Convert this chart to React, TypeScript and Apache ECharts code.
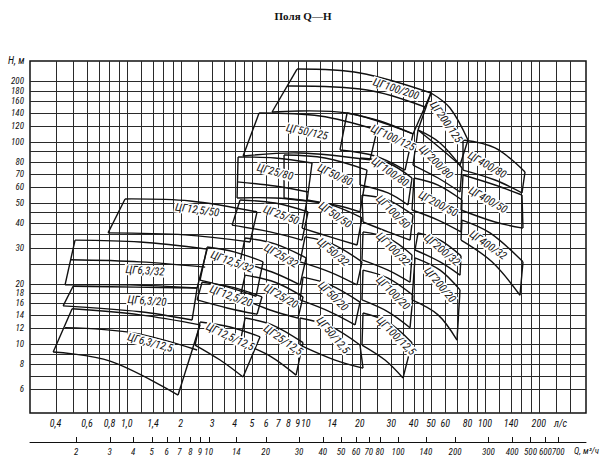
import React, { useEffect, useRef } from "react";
import * as echarts from "echarts";

// Axis ranges
const Q_MIN = 0.288; // l/s at left frame
const Q_MAX = 367; // l/s at right frame
const QH_MIN = 1.14; // m3/h at left end of the lower scale
const QH_MAX = 982; // m3/h at right end of the lower scale
const H_MIN = 4.58; // m at bottom frame
const H_MAX = 252; // m at top frame

// Grid lines
const qGridValues = [0.4, 0.5, 0.6, 0.7, 0.8, 0.9, 1, 1.2, 1.4, 1.6, 1.8, 2, 2.5, 3, 3.5, 4, 4.5, 5, 6, 7, 8, 9, 10, 12, 14, 16, 18, 20, 25, 30, 35, 40, 45, 50, 60, 70, 80, 90, 100, 120, 140, 160, 180, 200, 250, 300];
const hGridValues = [6, 7, 8, 9, 10, 12, 14, 16, 18, 20, 25, 30, 35, 40, 45, 50, 60, 70, 80, 90, 100, 120, 140, 160, 180, 200];

// Tick labels
const qTickValues = [0.4, 0.6, 0.8, 1, 1.4, 2, 3, 4, 5, 6, 7, 8, 9, 10, 14, 20, 30, 40, 50, 60, 80, 100, 140, 200];
const qTickLabels = ["0,4", "0,6", "0,8", "1,0", "1,4", "2", "3", "4", "5", "6", "7", "8", "9", "10", "14", "20", "30", "40", "50", "60", "80", "100", "140", "200"];
const hTickValues = [6, 8, 10, 12, 14, 16, 18, 20, 30, 40, 50, 60, 70, 80, 100, 120, 140, 160, 180, 200];
const qhTickValues = [2, 3, 4, 5, 6, 7, 8, 9, 10, 14, 20, 30, 40, 50, 60, 70, 80, 100, 140, 200, 300, 400, 500, 600, 700];

// Pump fields: [Q l/s, H m]
const fieldNames = [
  "ЦГ6,3/32", "ЦГ6,3/20", "ЦГ6,3/12,5",
  "ЦГ12,5/50", "ЦГ12,5/32", "ЦГ12,5/20", "ЦГ12,5/12,5",
  "ЦГ25/80", "ЦГ25/50", "ЦГ25/32", "ЦГ25/20", "ЦГ25/12,5",
  "ЦГ50/125", "ЦГ50/80", "ЦГ50/50", "ЦГ50/32", "ЦГ50/20", "ЦГ50/12,5",
  "ЦГ100/200", "ЦГ100/125", "ЦГ100/80", "ЦГ100/50", "ЦГ100/32", "ЦГ100/20", "ЦГ100/12,5",
  "ЦГ200/125", "ЦГ200/80", "ЦГ200/50", "ЦГ200/32", "ЦГ200/20",
  "ЦГ400/80", "ЦГ400/50", "ЦГ400/32",
];

const topCurves: number[][][] = [
  [[0.514, 32.8], [1.187, 32.1], [2.81, 29.6]],
  [[0.501, 19.4], [1.113, 19.2], [2.47, 19.0]],
  [[0.495, 15.0], [1.187, 14.0], [2.566, 12.5]],
  [[0.978, 52.4], [2.256, 51.2], [5.34, 45.2]],
  [[2.81, 30.3], [4.025, 28.6], [5.77, 25.6]],
  [[2.633, 20.3], [3.873, 19.2], [5.69, 17.2]],
  [[2.566, 12.9], [3.774, 12.2], [5.55, 10.9]],
  [[4.183, 84.5], [6.73, 83.5], [10.83, 78.9]],
  [[4.292, 51.8], [6.73, 50.0], [10.29, 45.2]],
  [[4.577, 33.6], [6.73, 31.4], [10.03, 26.8]],
  [[4.577, 22.0], [6.73, 20.3], [9.647, 17.2]],
  [[4.577, 13.5], [6.477, 12.5], [9.647, 10.2]],
  [[5.48, 139.4], [12.0, 134.7], [24.98, 114.9]],
  [[7.556, 86.4], [12.8, 83.5], [21.97, 72.8]],
  [[10.15, 51.8], [14.56, 48.3], [20.59, 42.2]],
  [[9.897, 34.0], [14.01, 31.4], [20.59, 25.6]],
  [[9.647, 21.5], [13.65, 19.7], [20.07, 16.2]],
  [[9.282, 13.5], [13.65, 12.3], [20.07, 9.93]],
  [[8.93, 230], [20.07, 219.9], [50.0, 175.1]],
  [[16.99, 139.4], [25.96, 127.3], [39.67, 109.8]],
  [[20.07, 83.5], [28.77, 78.9], [39.17, 66.5]],
  [[20.59, 54.8], [28.77, 51.8], [39.67, 43.6]],
  [[20.86, 36.0], [28.77, 33.6], [39.17, 27.7]],
  [[20.86, 23.3], [28.77, 21.3], [39.67, 17.5]],
  [[20.86, 14.3], [28.77, 12.9], [39.17, 10.2]],
  [[50.0, 175.1], [63.86, 147.6], [80.46, 102.5]],
  [[42.31, 114.9], [56.17, 99.1], [74.49, 74.5]],
  [[40.19, 66.5], [54.74, 61.4], [74.49, 51.8]],
  [[42.31, 35.6], [56.17, 32.8], [73.55, 27.4]],
  [[40.71, 26.8], [56.17, 23.3], [72.61, 18.6]],
  [[75.46, 102.5], [113.9, 93.6], [167.5, 71.2]],
  [[75.46, 68.8], [113.9, 61.4], [161.1, 54.8]],
  [[74.49, 41.2], [106.8, 35.6], [163.2, 25.6]],
];

const midCurves: (number[][] | null)[] = [
  [[0.483, 26.2], [1.187, 25.6], [2.74, 24.1]],
  null,
  [[0.452, 12.1], [1.084, 11.4], [2.47, 9.38]],
  null, null, null, null,
  [[4.13, 63.6], [6.73, 60.7], [10.29, 56.7]],
  null, null, null, null,
  null, null, null, null, null, null,
  [[7.85, 189.7], [21.97, 181.2], [46.3, 149.3]],
  null, null, null, null, null, null,
  null, null, null, null, null,
  null, null, null,
];

const bottomCurves: number[][][] = [
  [[0.452, 19.7], [1.043, 19.7], [2.47, 19.0]],
  [[0.441, 15.5], [1.187, 14.5], [2.315, 13.2]],
  [[0.388, 9.17], [0.807, 8.27], [1.934, 5.62]],
  [[0.786, 35.6], [2.116, 34.8], [4.88, 32.1]],
  [[2.566, 20.8], [3.678, 19.2], [5.27, 17.3]],
  [[2.47, 16.6], [3.678, 15.1], [5.34, 14.1]],
  [[2.406, 9.93], [3.319, 8.37], [4.461, 6.9]],
  [[4.13, 53.0], [6.73, 53.0], [10.15, 51.2]],
  [[3.873, 38.9], [6.312, 36.0], [9.524, 32.8]],
  [[4.292, 25.6], [6.477, 22.8], [9.282, 19.7]],
  [[4.292, 17.0], [6.312, 14.8], [9.045, 13.5]],
  [[4.292, 10.2], [6.312, 8.76], [8.816, 7.05]],
  [[4.461, 85.4], [9.282, 88.4], [22.83, 81.7]],
  [[7.556, 53.0], [14.56, 48.9], [20.07, 45.2]],
  [[9.524, 37.6], [13.65, 34.0], [19.31, 31.0]],
  [[9.282, 25.6], [13.65, 22.8], [19.31, 19.7]],
  [[9.282, 16.6], [13.65, 14.5], [18.83, 12.5]],
  [[9.282, 9.93], [14.56, 8.37], [20.86, 7.64]],
  [[6.477, 141.0], [16.99, 139.4], [39.67, 109.8]],
  [[15.52, 91.5], [24.34, 85.4], [35.8, 72.8]],
  [[20.07, 61.4], [28.77, 56.1], [37.2, 48.9]],
  [[20.86, 40.3], [28.77, 36.0], [38.19, 32.8]],
  [[20.59, 26.2], [28.77, 23.3], [38.19, 20.3]],
  [[20.59, 16.6], [28.77, 14.5], [38.19, 12.1]],
  [[20.59, 9.93], [27.68, 8.37], [34.88, 6.82]],
  [[42.31, 114.9], [56.17, 93.6], [72.61, 77.1]],
  [[39.67, 77.1], [54.74, 66.5], [72.61, 56.7]],
  [[39.17, 46.2], [54.74, 41.2], [73.55, 36.0]],
  [[40.71, 29.3], [56.17, 25.6], [72.61, 22.0]],
  [[39.17, 16.6], [54.74, 14.0], [69.86, 10.5]],
  [[75.46, 72.8], [113.9, 65.0], [161.1, 56.1]],
  [[73.55, 46.2], [113.9, 40.3], [163.2, 37.6]],
  [[73.55, 32.8], [109.5, 25.6], [157.0, 17.5]],
];

const labelPoints: number[][] = [
  [1.265, 23.1], [1.298, 16.4], [1.349, 10.2],
  [2.47, 46.2], [3.87, 25.6], [3.823, 17.3], [3.774, 10.9],
  [6.73, 71.2], [7.27, 43.6], [7.27, 27.4], [7.27, 17.3], [7.46, 10.5],
  [10.15, 112.3], [14.56, 68.8], [14.56, 43.6], [14.19, 28.6], [14.19, 17.3], [14.19, 11.1],
  [31.89, 183.3], [30.68, 104.9], [29.52, 71.2], [30.68, 45.2], [30.68, 29.6], [30.68, 17.96], [31.89, 11.0],
  [60.67, 125.8], [53.33, 79.8], [54.74, 49.5], [57.63, 29.3], [56.17, 19.7],
  [102.7, 77.1], [104.1, 51.8], [104.1, 31.0],
];

const labelAngles = [
  -4, -4, -15,
  -8, -20, -20, -25,
  -15, -20, -30, -30, -35,
  -12, -25, -35, -40, -45, -50,
  -18, -25, -35, -45, -45, -45, -45,
  -55, -45, -28, -40, -50,
  -30, -30, -35,
];

const FONT = "'Liberation Sans Narrow', 'Roboto Condensed', Roboto, 'Liberation Sans', sans-serif";
const INK = "#111";
const GRID_INK = "#2a2a2a";

const fieldLine = () => ({ stroke: INK, lineWidth: 1.4, fill: "none" });

export default function App() {
  const ref = useRef<HTMLDivElement>(null);

  useEffect(() => {
    if (!ref.current) return;
    const chart = echarts.init(ref.current, undefined, { renderer: "svg" });

    const option: any = {
      animation: false,
      backgroundColor: "#fff",
      title: {
        text: "Поля Q—H",
        left: 298,
        top: 5,
        textAlign: "center",
        textStyle: { fontFamily: "'Liberation Serif', serif", fontWeight: "bold", fontSize: 11, color: INK },
      },
      grid: {
        left: 30,
        right: 17,
        top: 61,
        bottom: 50,
        show: true,
        borderColor: INK,
        borderWidth: 1.5,
        backgroundColor: "transparent",
        outerBoundsMode: "none",
      },
      xAxis: [
        {
          type: "log",
          min: Q_MIN,
          max: Q_MAX,
          axisLine: { show: false },
          axisTick: { show: false },
          axisLabel: { show: false },
          splitLine: { show: false },
        },
        {
          type: "log",
          min: QH_MIN,
          max: QH_MAX,
          position: "bottom",
          offset: 29,
          axisLine: { show: true, onZero: false, lineStyle: { color: INK, width: 1 } },
          axisTick: { show: false },
          axisLabel: { show: false },
          splitLine: { show: false },
        },
      ],
      yAxis: {
        type: "log",
        min: H_MIN,
        max: H_MAX,
        axisLine: { show: false },
        axisTick: { show: false },
        axisLabel: { show: false },
        splitLine: { show: false },
      },
      graphic: [
        {
          type: "text",
          left: 8,
          top: 55,
          style: { text: "H, м", fill: INK, fontSize: 10, fontStyle: "italic", fontFamily: FONT },
        },
        {
          type: "text",
          left: 554,
          top: 418,
          style: { text: "л/с", fill: INK, fontSize: 10, fontStyle: "italic", fontFamily: FONT },
        },
        {
          type: "text",
          left: 574,
          top: 446,
          style: { text: "Q, м³/ч", fill: INK, fontSize: 9, fontStyle: "italic", fontFamily: FONT },
        },
      ],
      series: [
        {
          type: "custom",
          name: "qgrid",
          silent: true,
          z: 1,
          data: qGridValues.map((v) => [v, H_MIN]),
          renderItem: (_p: any, api: any) => {
            const v = api.value(0);
            const a = api.coord([v, H_MAX]);
            const b = api.coord([v, H_MIN]);
            const x = Math.round(a[0]) + 0.5;
            return {
              type: "line",
              shape: { x1: x, y1: a[1], x2: x, y2: b[1] },
              style: { stroke: GRID_INK, lineWidth: 1 },
            };
          },
        },
        {
          type: "custom",
          name: "hgrid",
          silent: true,
          z: 1,
          data: hGridValues.map((v) => [Q_MIN, v]),
          renderItem: (_p: any, api: any) => {
            const v = api.value(1);
            const a = api.coord([Q_MIN, v]);
            const b = api.coord([Q_MAX, v]);
            const y = Math.round(a[1]) + 0.5;
            return {
              type: "line",
              shape: { x1: a[0], y1: y, x2: b[0], y2: y },
              style: { stroke: GRID_INK, lineWidth: 1 },
            };
          },
        },
        {
          type: "custom",
          name: "qlabels",
          silent: true,
          z: 3,
          data: qTickValues.map((v) => [v, H_MIN]),
          renderItem: (p: any, api: any) => {
            const a = api.coord([api.value(0), H_MIN]);
            return {
              type: "text",
              x: a[0],
              y: a[1] + 10,
              style: {
                text: qTickLabels[p.dataIndex],
                fill: INK,
                fontSize: 10,
                fontStyle: "italic",
                fontFamily: FONT,
                align: "center",
                verticalAlign: "middle",
              },
            };
          },
        },
        {
          type: "custom",
          name: "hlabels",
          silent: true,
          z: 3,
          data: hTickValues.map((v) => [Q_MIN, v]),
          renderItem: (p: any, api: any) => {
            const a = api.coord([Q_MIN, api.value(1)]);
            return {
              type: "text",
              x: a[0] - 6,
              y: a[1],
              style: {
                text: String(hTickValues[p.dataIndex]),
                fill: INK,
                fontSize: 9,
                fontStyle: "italic",
                fontFamily: FONT,
                align: "right",
                verticalAlign: "middle",
              },
            };
          },
        },
        {
          type: "custom",
          name: "qhscale",
          silent: true,
          xAxisIndex: 1,
          yAxisIndex: 0,
          z: 3,
          data: qhTickValues.map((v) => [v, H_MIN]),
          renderItem: (p: any, api: any) => {
            const a = api.coord([api.value(0), H_MIN]);
            const y0 = a[1] + 29;
            const x = Math.round(a[0]) + 0.5;
            return {
              type: "group",
              children: [
                { type: "line", shape: { x1: x, y1: y0 - 5, x2: x, y2: y0 }, style: { stroke: INK, lineWidth: 1 } },
                {
                  type: "text",
                  x: a[0],
                  y: y0 + 10,
                  style: {
                    text: String(qhTickValues[p.dataIndex]),
                    fill: INK,
                    fontSize: 9,
                    fontStyle: "italic",
                    fontFamily: FONT,
                    align: "center",
                    verticalAlign: "middle",
                  },
                },
              ],
            };
          },
        },
        {
          type: "custom",
          name: "fields",
          silent: true,
          z: 4,
          data: labelPoints.map((p) => [p[0], p[1]]),
          renderItem: (p: any, api: any) => {
            const i = p.dataIndex;
            const c = (pt: number[]) => api.coord(pt);
            const top = topCurves[i].map(c);
            const bot = bottomCurves[i].map(c);
            const children: any[] = [
              { type: "polyline", shape: { points: top, smooth: 0.35 }, style: fieldLine() },
              { type: "polyline", shape: { points: bot, smooth: 0.35 }, style: fieldLine() },
              { type: "line", shape: { x1: top[0][0], y1: top[0][1], x2: bot[0][0], y2: bot[0][1] }, style: fieldLine() },
              { type: "line", shape: { x1: top[2][0], y1: top[2][1], x2: bot[2][0], y2: bot[2][1] }, style: fieldLine() },
            ];
            const mid = midCurves[i];
            if (mid) {
              children.push({ type: "polyline", shape: { points: mid.map(c), smooth: 0.35 }, style: fieldLine() });
            }
            return { type: "group", children };
          },
        },
        {
          type: "custom",
          name: "fieldLabels",
          silent: true,
          z: 5,
          data: labelPoints.map((p) => [p[0], p[1]]),
          renderItem: (p: any, api: any) => {
            const i = p.dataIndex;
            const a = api.coord([api.value(0), api.value(1)]);
            return {
              type: "text",
              x: a[0],
              y: a[1],
              rotation: (labelAngles[i] * Math.PI) / 180,
              style: {
                text: fieldNames[i],
                fill: INK,
                fontSize: 11,
                fontStyle: "italic",
                fontFamily: FONT,
                align: "center",
                verticalAlign: "middle",
                backgroundColor: "#fff",
                padding: [0, 1],
              },
            };
          },
        },
      ],
    };

    chart.setOption(option);
    return () => chart.dispose();
  }, []);

  return (
    <div
      ref={ref}
      style={{ position: "absolute", left: 0, top: 0, width: 603, height: 463, background: "#fff" }}
    />
  );
}
